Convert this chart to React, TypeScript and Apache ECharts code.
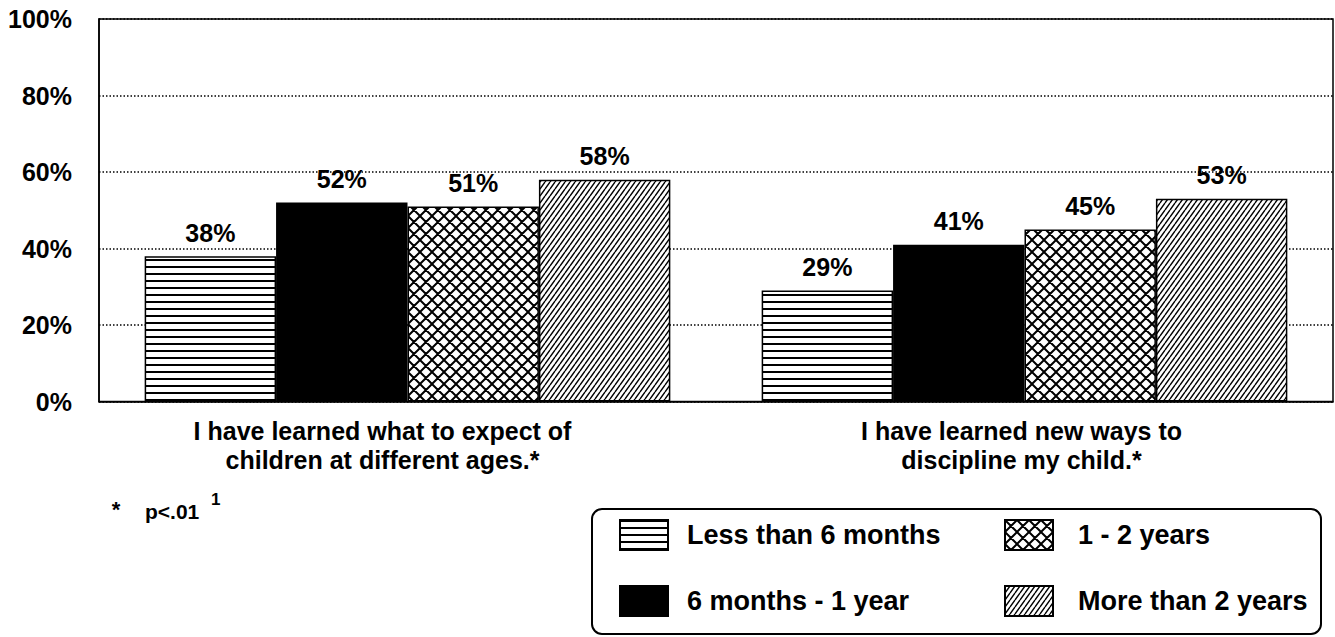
import React, { useEffect, useRef } from "react";
import * as echarts from "echarts";

const categories = [
  "I have learned what to expect of\nchildren at different ages.*",
  "I have learned new ways to\ndiscipline my child.*",
];
const seriesNames = ["Less than 6 months", "6 months - 1 year", "1 - 2 years", "More than 2 years"];
const lessThan6Months = [38, 29];
const sixMonthsTo1Year = [52, 41];
const oneToTwoYears = [51, 45];
const moreThan2Years = [58, 53];
const yTicks = [0, 20, 40, 60, 80, 100];
const footnote = "p<.01";
const footnoteSup = "1";

const FONT = '"Liberation Sans", Arial, Helvetica, sans-serif';

function makeCanvas(w: number, h: number) {
  const c = document.createElement("canvas");
  c.width = w;
  c.height = h;
  const ctx = c.getContext("2d")!;
  ctx.fillStyle = "#fff";
  ctx.fillRect(0, 0, w, h);
  return { c, ctx };
}

function horizontalPattern() {
  const { c, ctx } = makeCanvas(8, 7);
  ctx.fillStyle = "#000";
  ctx.fillRect(0, 0, 8, 2);
  return c;
}

function crossPattern() {
  const s = 12;
  const { c, ctx } = makeCanvas(s, s);
  ctx.strokeStyle = "#000";
  ctx.lineWidth = 2;
  ctx.beginPath();
  for (const o of [-s, 0, s]) {
    ctx.moveTo(o, 0);
    ctx.lineTo(o + s, s);
    ctx.moveTo(o + s, 0);
    ctx.lineTo(o, s);
  }
  ctx.stroke();
  return c;
}

function diagonalPattern() {
  const w = 5;
  const h = 7;
  const { c, ctx } = makeCanvas(w, h);
  ctx.strokeStyle = "#000";
  ctx.lineWidth = 1.4;
  ctx.beginPath();
  for (const o of [-w, 0, w]) {
    ctx.moveTo(o, h);
    ctx.lineTo(o + w, 0);
  }
  ctx.stroke();
  return c;
}

export default function App() {
  const ref = useRef<HTMLDivElement>(null);

  useEffect(() => {
    if (!ref.current) return;
    const chart = echarts.init(ref.current, undefined, { renderer: "svg" });

    const fills: any[] = [
      { image: horizontalPattern(), repeat: "repeat" },
      "#000000",
      { image: crossPattern(), repeat: "repeat" },
      { image: diagonalPattern(), repeat: "repeat" },
    ];
    const values = [lessThan6Months, sixMonthsTo1Year, oneToTwoYears, moreThan2Years];

    const series = seriesNames.map((name, i) => ({
      name,
      type: "bar",
      data: values[i],
      barGap: "0%",
      barCategoryGap: "14.8%",
      itemStyle: { color: fills[i], borderColor: "#000", borderWidth: 1.5 },
      label: {
        show: true,
        position: "top",
        distance: 11,
        formatter: "{c}%",
        color: "#000",
        fontFamily: FONT,
        fontWeight: "bold",
        fontSize: 25,
      },
    }));

    const legendCommon = {
      orient: "vertical",
      icon: "rect",
      itemWidth: 48,
      itemHeight: 30,
      itemGap: 34,
      padding: 0,
      selectedMode: false,
      textStyle: {
        color: "#000",
        fontFamily: FONT,
        fontWeight: "bold",
        fontSize: 27,
        lineHeight: 30,
      },
    };

    // the first category label sits a little left of its group's centre
    const categoryData = categories.map((c, i) => ({
      value: c,
      textStyle: i === 0 ? { padding: [0, 50, 0, 0] } : { padding: [0, 6, 0, 0] },
    }));

    chart.setOption({
      animation: false,
      backgroundColor: "#fff",
      grid: {
        left: 99,
        right: 2,
        top: 19,
        bottom: 235.5,
        show: true,
        borderColor: "#000",
        borderWidth: 1.5,
        backgroundColor: "transparent",
      },
      legend: [
        {
          ...legendCommon,
          left: 619,
          top: 519,
          data: [seriesNames[0], seriesNames[1]],
          textStyle: { ...legendCommon.textStyle, padding: [0, 0, 0, 14] },
        },
        {
          ...legendCommon,
          left: 1004,
          top: 519,
          data: [seriesNames[2], seriesNames[3]],
          textStyle: { ...legendCommon.textStyle, padding: [0, 0, 0, 20] },
        },
      ],
      xAxis: {
        type: "category",
        data: categoryData,
        axisTick: { show: false },
        axisLine: { show: true, lineStyle: { color: "#000", width: 1.5 } },
        axisLabel: {
          color: "#000",
          fontFamily: FONT,
          fontWeight: "bold",
          fontSize: 25,
          lineHeight: 29,
          margin: 15,
          interval: 0,
        },
      },
      yAxis: {
        type: "value",
        min: yTicks[0],
        max: yTicks[yTicks.length - 1],
        interval: yTicks[1] - yTicks[0],
        axisLine: { show: true, lineStyle: { color: "#000", width: 1.5 } },
        axisTick: { show: false },
        axisLabel: {
          formatter: "{value}%",
          color: "#000",
          fontFamily: FONT,
          fontWeight: "bold",
          fontSize: 25,
          margin: 27,
        },
        splitLine: {
          show: true,
          lineStyle: { color: "#000", width: 1.5, type: [1.5, 2] },
        },
      },
      graphic: [
        {
          type: "rect",
          shape: { x: 592, y: 509, width: 729, height: 125, r: 10 },
          style: { fill: "none", stroke: "#000", lineWidth: 2 },
          silent: true,
        },
        {
          type: "text",
          x: 116,
          y: 509,
          style: {
            text: "*",
            fill: "#000",
            font: `bold 22px ${FONT}`,
            align: "center",
            verticalAlign: "middle",
          },
        },
        {
          type: "text",
          x: 145,
          y: 511,
          style: {
            text: footnote,
            fill: "#000",
            font: `bold 21px ${FONT}`,
            align: "left",
            verticalAlign: "middle",
          },
        },
        {
          type: "text",
          x: 211,
          y: 499,
          style: {
            text: footnoteSup,
            fill: "#000",
            font: `bold 17px ${FONT}`,
            align: "left",
            verticalAlign: "middle",
          },
        },
      ],
      series,
    });

    return () => chart.dispose();
  }, []);

  return (
    <div
      ref={ref}
      style={{ position: "fixed", left: 0, top: 0, width: 1335, height: 637, background: "#fff" }}
    />
  );
}
